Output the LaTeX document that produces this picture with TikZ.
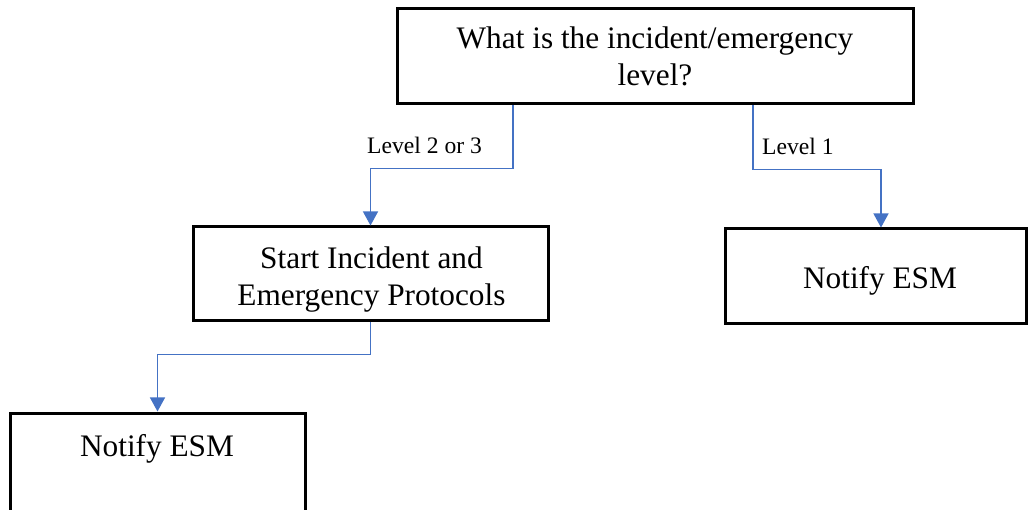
\documentclass[tikz,border=0pt]{standalone}
\usepackage{fontspec}
\setmainfont{Liberation Serif}
\usetikzlibrary{arrows.meta}
\definecolor{connblue}{HTML}{4472C4}
\begin{document}
\begin{tikzpicture}[x=1pt,y=-1pt,
  box/.style={draw=black, line width=3pt, inner sep=0pt},
  txt/.style={font=\fontsize{31.3}{37.5}\selectfont, align=center, inner sep=0pt, anchor=base},
  lbl/.style={font=\fontsize{23.6}{27}\selectfont, inner sep=0pt, anchor=base west},
  link/.style={draw=connblue, line width=1.3pt, -{Triangle[width=15pt,length=14pt]}}]
\useasboundingbox (0,0) rectangle (1028,510);
\clip (0,0) rectangle (1028,510);
% boxes
\node[box, minimum width=516pt, minimum height=95pt] (q) at (655,56.5) {};
\node[box, minimum width=355pt, minimum height=94pt] (s) at (370.5,274) {};
\node[box, minimum width=301pt, minimum height=95pt] (r) at (875.5,276.5) {};
\node[box, minimum width=295pt, minimum height=110pt] (b) at (157.5,468) {};
% texts (base anchor = baseline of the last line)
\node[txt] (qt) at (655,86) {What is the incident/emergency\\level?};
\node[txt] (st) at (371.5,306) {Start Incident and\\Emergency Protocols};
\node[txt] (rt) at (880,289) {Notify ESM};
\node[txt] (bt) at (157,456) {Notify ESM};
% labels
\node[lbl] (l23) at (367,154) {Level 2 or 3};
\node[lbl] (l1) at (762,155) {Level 1};
% connectors
\draw[link] ([xshift=-142pt]q.south) -- ++(0,63) -| (s.north);
\draw[link] ([xshift=98pt]q.south) -- ++(0,64) -| ([xshift=5.5pt]r.north);
\draw[link] (s.south) -- ++(0,32) -| (b.north);
\end{tikzpicture}
\end{document}
